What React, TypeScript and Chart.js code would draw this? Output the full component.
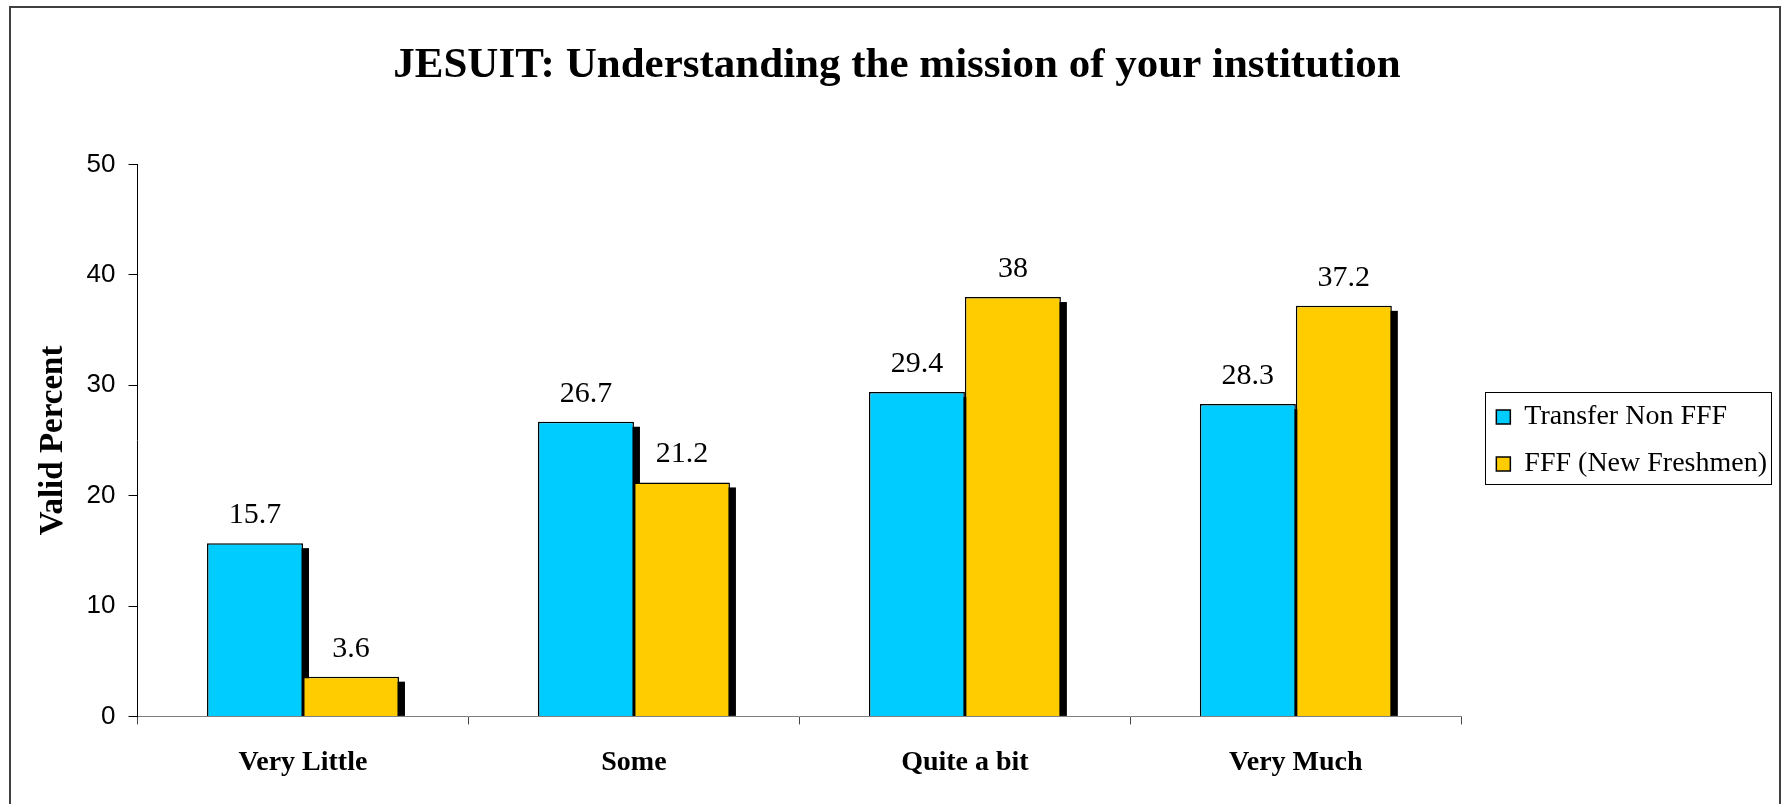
import React, { useEffect, useRef } from "react";
import { Chart, registerables } from "chart.js";

Chart.register(...registerables);

const categories = ["Very Little", "Some", "Quite a bit", "Very Much"];
const transferValues = [15.7, 26.7, 29.4, 28.3];
const freshmenValues = [3.6, 21.2, 38, 37.2];
const seriesNames = ["Transfer Non FFF", "FFF (New Freshmen)"];
const yMin = 0;
const yMax = 50;
const yStep = 10;

const SERIF = "'Liberation Serif', 'Times New Roman', serif";
const SANS = "'Liberation Sans', Arial, sans-serif";

const shadowPlugin = {
  id: "barShadow",
  beforeDatasetsDraw(chart: any) {
    const { ctx, chartArea } = chart;
    ctx.save();
    ctx.fillStyle = "#000";
    chart.data.datasets.forEach((_: any, i: number) => {
      const meta = chart.getDatasetMeta(i);
      meta.data.forEach((bar: any) => {
        const w = bar.width;
        const left = bar.x - w / 2 + 6;
        const top = bar.y + 5;
        const bottom = Math.min(bar.base, chartArea.bottom);
        if (bottom > top) ctx.fillRect(left, top, w, bottom - top);
      });
    });
    ctx.restore();
  },
};

const labelPlugin = {
  id: "valueLabels",
  afterDatasetsDraw(chart: any) {
    const { ctx } = chart;
    ctx.save();
    ctx.fillStyle = "#000";
    ctx.font = `30px ${SERIF}`;
    ctx.textAlign = "center";
    ctx.textBaseline = "alphabetic";
    chart.data.datasets.forEach((ds: any, i: number) => {
      const meta = chart.getDatasetMeta(i);
      meta.data.forEach((bar: any, j: number) => {
        ctx.fillText(String(ds.data[j]), bar.x, bar.y - 20);
      });
    });
    ctx.restore();
  },
};

// Leaves a gap between the plot area and the legend, and nudges the title, as in the original.
const layoutTweakPlugin = {
  id: "layoutTweak",
  afterLayout(chart: any) {
    const lg = chart.legend;
    if (lg) {
      lg.left += 16;
      lg.right += 16;
    }
    const tb = chart.titleBlock;
    if (tb) {
      tb.left += 7;
      tb.right += 7;
    }
  },
};

const legendBoxPlugin = {
  id: "legendBox",
  afterDraw(chart: any) {
    const lg = chart.legend;
    if (!lg || !lg.legendHitBoxes || !lg.legendHitBoxes.length) return;
    let minX = Infinity, minY = Infinity, maxX = -Infinity, maxY = -Infinity;
    lg.legendHitBoxes.forEach((h: any) => {
      minX = Math.min(minX, h.left);
      minY = Math.min(minY, h.top);
      maxX = Math.max(maxX, h.left + h.width);
      maxY = Math.max(maxY, h.top + h.height);
    });
    const { ctx } = chart;
    ctx.save();
    ctx.strokeStyle = "#000";
    ctx.lineWidth = 1;
    ctx.strokeRect(
      Math.round(minX - 11) + 0.5,
      Math.round(minY - 11) + 0.5,
      Math.round(maxX - minX + 15),
      Math.round(maxY - minY + 17)
    );
    ctx.restore();
  },
};

export default function App() {
  const canvasRef = useRef<HTMLCanvasElement | null>(null);

  useEffect(() => {
    if (!canvasRef.current) return;
    const chart = new Chart(canvasRef.current, {
      type: "bar",
      data: {
        labels: categories,
        datasets: [
          {
            label: seriesNames[0],
            data: transferValues,
            backgroundColor: "#00CCFF",
            borderColor: "#000",
            borderWidth: 1.5,
            categoryPercentage: 0.58,
            barPercentage: 1.0,
          },
          {
            label: seriesNames[1],
            data: freshmenValues,
            backgroundColor: "#FFCC00",
            borderColor: "#000",
            borderWidth: 1.5,
            categoryPercentage: 0.58,
            barPercentage: 1.0,
          },
        ],
      },
      options: {
        responsive: false,
        animation: false,
        devicePixelRatio: 1,
        layout: { padding: { left: 19, right: 24, top: 0, bottom: 2 } },
        plugins: {
          title: {
            display: true,
            text: "JESUIT: Understanding the mission of your institution",
            color: "#000",
            font: { family: SERIF, size: 43, weight: "bold" },
            padding: { top: 40, bottom: 73 },
          },
          legend: {
            display: true,
            position: "right",
            fullSize: false,
            labels: {
              color: "#000",
              font: { family: SERIF, size: 28 },
              boxWidth: 14,
              boxHeight: 14,
              padding: 19,
            },
          },
          tooltip: { enabled: false },
        },
        scales: {
          x: {
            grid: {
              display: true,
              drawOnChartArea: false,
              drawTicks: true,
              tickLength: 8,
              color: "#444",
              offset: true,
            },
            border: { display: true, color: "#808080", width: 1 },
            ticks: {
              color: "#000",
              font: { family: SERIF, size: 28, weight: "bold" },
              padding: 22,
            },
          },
          y: {
            min: yMin,
            max: yMax,
            ticks: {
              stepSize: yStep,
              color: "#000",
              font: { family: SANS, size: 26 },
              padding: 13,
            },
            grid: {
              display: true,
              drawOnChartArea: false,
              drawTicks: true,
              tickLength: 9,
              color: "#000",
            },
            border: { display: true, color: "#000", width: 1 },
            title: {
              display: true,
              text: "Valid Percent",
              color: "#000",
              font: { family: SERIF, size: 33, weight: "bold" },
              padding: { top: 15, bottom: 0 },
            },
          },
        },
      },
      plugins: [layoutTweakPlugin, shadowPlugin, labelPlugin, legendBoxPlugin],
    });
    return () => chart.destroy();
  }, []);

  return (
    <div
      style={{
        position: "fixed",
        left: 0,
        top: 0,
        width: 1785,
        height: 804,
        overflow: "hidden",
        background: "#fff",
      }}
    >
      <canvas
        ref={canvasRef}
        width={1785}
        height={804}
        style={{ position: "absolute", left: 0, top: 0, width: 1785, height: 804 }}
      />
      <div
        style={{
          position: "absolute",
          left: 9,
          top: 6,
          width: 1772,
          height: 830,
          boxSizing: "border-box",
          borderTop: "2px solid #404040",
          borderLeft: "2px solid #404040",
          borderRight: "2px solid #404040",
          pointerEvents: "none",
        }}
      />
    </div>
  );
}
